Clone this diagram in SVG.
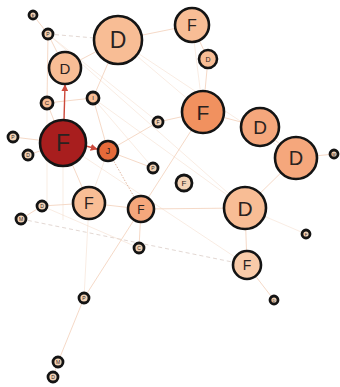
<svg xmlns="http://www.w3.org/2000/svg" width="340" height="387" viewBox="0 0 340 387">
<defs>
<style>
.n{stroke:#141414;stroke-width:2.6}
.s{stroke:#141414;stroke-width:2.8}
.t{font-family:"Liberation Sans",Arial,sans-serif;fill:#2a2220;text-anchor:middle;dominant-baseline:central}
.e{stroke:#efc3a6;stroke-width:0.9;fill:none;opacity:0.7}
.f{stroke:#f3d6c4;stroke-width:0.8;fill:none;opacity:0.6}
.d{stroke:#e3d8d3;stroke-width:1;fill:none;stroke-dasharray:4 3}
.o{stroke:#e3b9a2;stroke-width:1;fill:none;stroke-dasharray:1.5 1.5}
.r{stroke:#cc4a3c;stroke-width:1.4;fill:none}
.pale{fill:#f3d3b6}
.peach{fill:#f8bd95}
.lt{fill:#f9cba9}
.mid{fill:#f5a77c}
.org{fill:#f1915f}
.red{fill:#a81e1e}
.j{fill:#e56a3a}
</style>
<marker id="ah" viewBox="0 0 10 10" refX="9" refY="5" markerWidth="5" markerHeight="5" orient="auto"><path d="M0,0L10,5L0,10z" fill="#cc4a3c"/></marker>
</defs>
<rect width="340" height="387" fill="#fff"/>
<g id="edges">
<line class="e" x1="33" y1="15" x2="48" y2="34"/>
<line class="d" x1="48" y1="34" x2="118" y2="40"/>
<line class="e" x1="48" y1="34" x2="65" y2="68"/>
<line class="e" x1="48" y1="34" x2="47" y2="103"/>
<line class="f" x1="48" y1="34" x2="158" y2="122"/>
<line class="f" x1="48" y1="34" x2="245" y2="208"/>
<line class="e" x1="65" y1="68" x2="118" y2="40"/>
<line class="e" x1="118" y1="40" x2="93" y2="98"/>
<line class="e" x1="118" y1="40" x2="192" y2="25"/>
<line class="f" x1="118" y1="40" x2="203" y2="112"/>
<line class="f" x1="118" y1="40" x2="296" y2="158"/>
<line class="e" x1="192" y1="25" x2="208" y2="59"/>
<line class="f" x1="192" y1="25" x2="203" y2="112"/>
<line class="e" x1="208" y1="59" x2="203" y2="112"/>
<line class="e" x1="203" y1="112" x2="260" y2="127"/>
<line class="e" x1="203" y1="112" x2="158" y2="122"/>
<line class="e" x1="203" y1="112" x2="141" y2="209"/>
<line class="e" x1="260" y1="127" x2="296" y2="158"/>
<line class="e" x1="296" y1="158" x2="334" y2="154"/>
<line class="e" x1="296" y1="158" x2="245" y2="208"/>
<line class="e" x1="245" y1="208" x2="247" y2="265"/>
<line class="f" x1="245" y1="208" x2="306" y2="234"/>
<line class="e" x1="247" y1="265" x2="274" y2="300"/>
<line class="d" x1="21" y1="219" x2="247" y2="265"/>
<line class="e" x1="141" y1="209" x2="245" y2="208"/>
<line class="f" x1="93" y1="98" x2="245" y2="208"/>
<line class="f" x1="63" y1="143" x2="247" y2="265"/>
<line class="e" x1="158" y1="122" x2="108" y2="151"/>
<line class="e" x1="108" y1="151" x2="153" y2="168"/>
<line class="o" x1="108" y1="151" x2="141" y2="209"/>
<line class="f" x1="108" y1="151" x2="89" y2="203"/>
<line class="e" x1="63" y1="143" x2="89" y2="203"/>
<line class="e" x1="89" y1="203" x2="141" y2="209"/>
<line class="e" x1="89" y1="203" x2="42" y2="206"/>
<line class="e" x1="42" y1="206" x2="21" y2="219"/>
<line class="f" x1="42" y1="206" x2="139" y2="248"/>
<line class="e" x1="141" y1="209" x2="139" y2="248"/>
<line class="e" x1="141" y1="209" x2="84" y2="298"/>
<line class="f" x1="89" y1="203" x2="84" y2="298"/>
<line class="e" x1="84" y1="298" x2="58" y2="362"/>
<line class="e" x1="58" y1="362" x2="53" y2="377"/>
<line class="e" x1="63" y1="143" x2="13" y2="137"/>
<line class="e" x1="63" y1="143" x2="28" y2="155"/>
<line class="e" x1="47" y1="103" x2="63" y2="143"/>
<line class="e" x1="47" y1="103" x2="93" y2="98"/>
<line class="e" x1="93" y1="98" x2="108" y2="151"/>
<line class="f" x1="47" y1="103" x2="47" y2="206"/>
<line class="f" x1="93" y1="98" x2="153" y2="168"/>
<line class="f" x1="63" y1="143" x2="63" y2="220"/>
<line class="r" x1="64" y1="120" x2="65" y2="85" marker-end="url(#ah)"/>
<line class="r" x1="86" y1="146" x2="97" y2="149" marker-end="url(#ah)"/>
</g>
<g id="n1"><circle class="s pale" cx="33" cy="15" r="4"/><text class="t" x="33" y="15" font-size="4">E</text></g>
<g id="n2"><circle class="s pale" cx="48" cy="34" r="5"/><text class="t" x="48" y="34" font-size="5">P</text></g>
<g id="n3"><circle class="n peach" cx="118" cy="40" r="24"/><text class="t" x="118" y="40" font-size="23">D</text></g>
<g id="n4"><circle class="n peach" cx="65" cy="68" r="16"/><text class="t" x="65" y="68" font-size="15">D</text></g>
<g id="n5"><circle class="n peach" cx="192" cy="25" r="17"/><text class="t" x="192" y="25" font-size="16">F</text></g>
<g id="n6"><circle class="n peach" cx="208" cy="59" r="9"/><text class="t" x="208" y="59" font-size="7">D</text></g>
<g id="n7"><circle class="n org" cx="203" cy="112" r="21"/><text class="t" x="203" y="112" font-size="21">F</text></g>
<g id="n8"><circle class="n mid" cx="260" cy="127" r="19"/><text class="t" x="260" y="127" font-size="19">D</text></g>
<g id="n9"><circle class="n mid" cx="296" cy="158" r="21"/><text class="t" x="296" y="158" font-size="20">D</text></g>
<g id="n10"><circle class="s pale" cx="334" cy="154" r="4"/><text class="t" x="334" y="154" font-size="4">M</text></g>
<g id="n11"><circle class="n red" cx="63" cy="143" r="23"/><text class="t" x="63" y="143" font-size="23">F</text></g>
<g id="n12"><circle class="s peach" cx="47" cy="103" r="6"/><text class="t" x="47" y="103" font-size="6">C</text></g>
<g id="n13"><circle class="s peach" cx="93" cy="98" r="6"/><text class="t" x="93" y="98" font-size="6">I</text></g>
<g id="n14"><circle class="s pale" cx="158" cy="122" r="5"/><text class="t" x="158" y="122" font-size="5">F</text></g>
<g id="n15"><circle class="s pale" cx="13" cy="137" r="5"/><text class="t" x="13" y="137" font-size="5">P</text></g>
<g id="n16"><circle class="s pale" cx="28" cy="155" r="5"/><text class="t" x="28" y="155" font-size="5">D</text></g>
<g id="n17"><circle class="n j" cx="108" cy="151" r="10"/><text class="t" x="108" y="151" font-size="9">J</text></g>
<g id="n18"><circle class="s pale" cx="153" cy="168" r="5"/><text class="t" x="153" y="168" font-size="5">P</text></g>
<g id="n19"><circle class="s pale" cx="184" cy="183" r="8"/><text class="t" x="184" y="183" font-size="8">F</text></g>
<g id="n20"><circle class="n peach" cx="245" cy="208" r="21"/><text class="t" x="245" y="208" font-size="21">D</text></g>
<g id="n21"><circle class="n peach" cx="89" cy="203" r="16"/><text class="t" x="89" y="203" font-size="16">F</text></g>
<g id="n22"><circle class="s pale" cx="42" cy="206" r="5"/><text class="t" x="42" y="206" font-size="5">D</text></g>
<g id="n23"><circle class="s pale" cx="21" cy="219" r="5"/><text class="t" x="21" y="219" font-size="5">M</text></g>
<g id="n24"><circle class="n mid" cx="141" cy="209" r="13"/><text class="t" x="141" y="210" font-size="12">F</text></g>
<g id="n25"><circle class="s pale" cx="139" cy="248" r="5"/><text class="t" x="139" y="248" font-size="5">C</text></g>
<g id="n26"><circle class="s pale" cx="306" cy="234" r="4"/><text class="t" x="306" y="234" font-size="4">F</text></g>
<g id="n27"><circle class="n lt" cx="247" cy="265" r="14"/><text class="t" x="247" y="265" font-size="14">F</text></g>
<g id="n28"><circle class="s pale" cx="274" cy="300" r="4"/><text class="t" x="274" y="300" font-size="4">D</text></g>
<g id="n29"><circle class="s pale" cx="84" cy="298" r="5"/><text class="t" x="84" y="298" font-size="5">P</text></g>
<g id="n30"><circle class="s pale" cx="58" cy="362" r="5"/><text class="t" x="58" y="362" font-size="5">M</text></g>
<g id="n31"><circle class="s pale" cx="53" cy="377" r="5"/><text class="t" x="53" y="377" font-size="5">D</text></g>
</svg>
